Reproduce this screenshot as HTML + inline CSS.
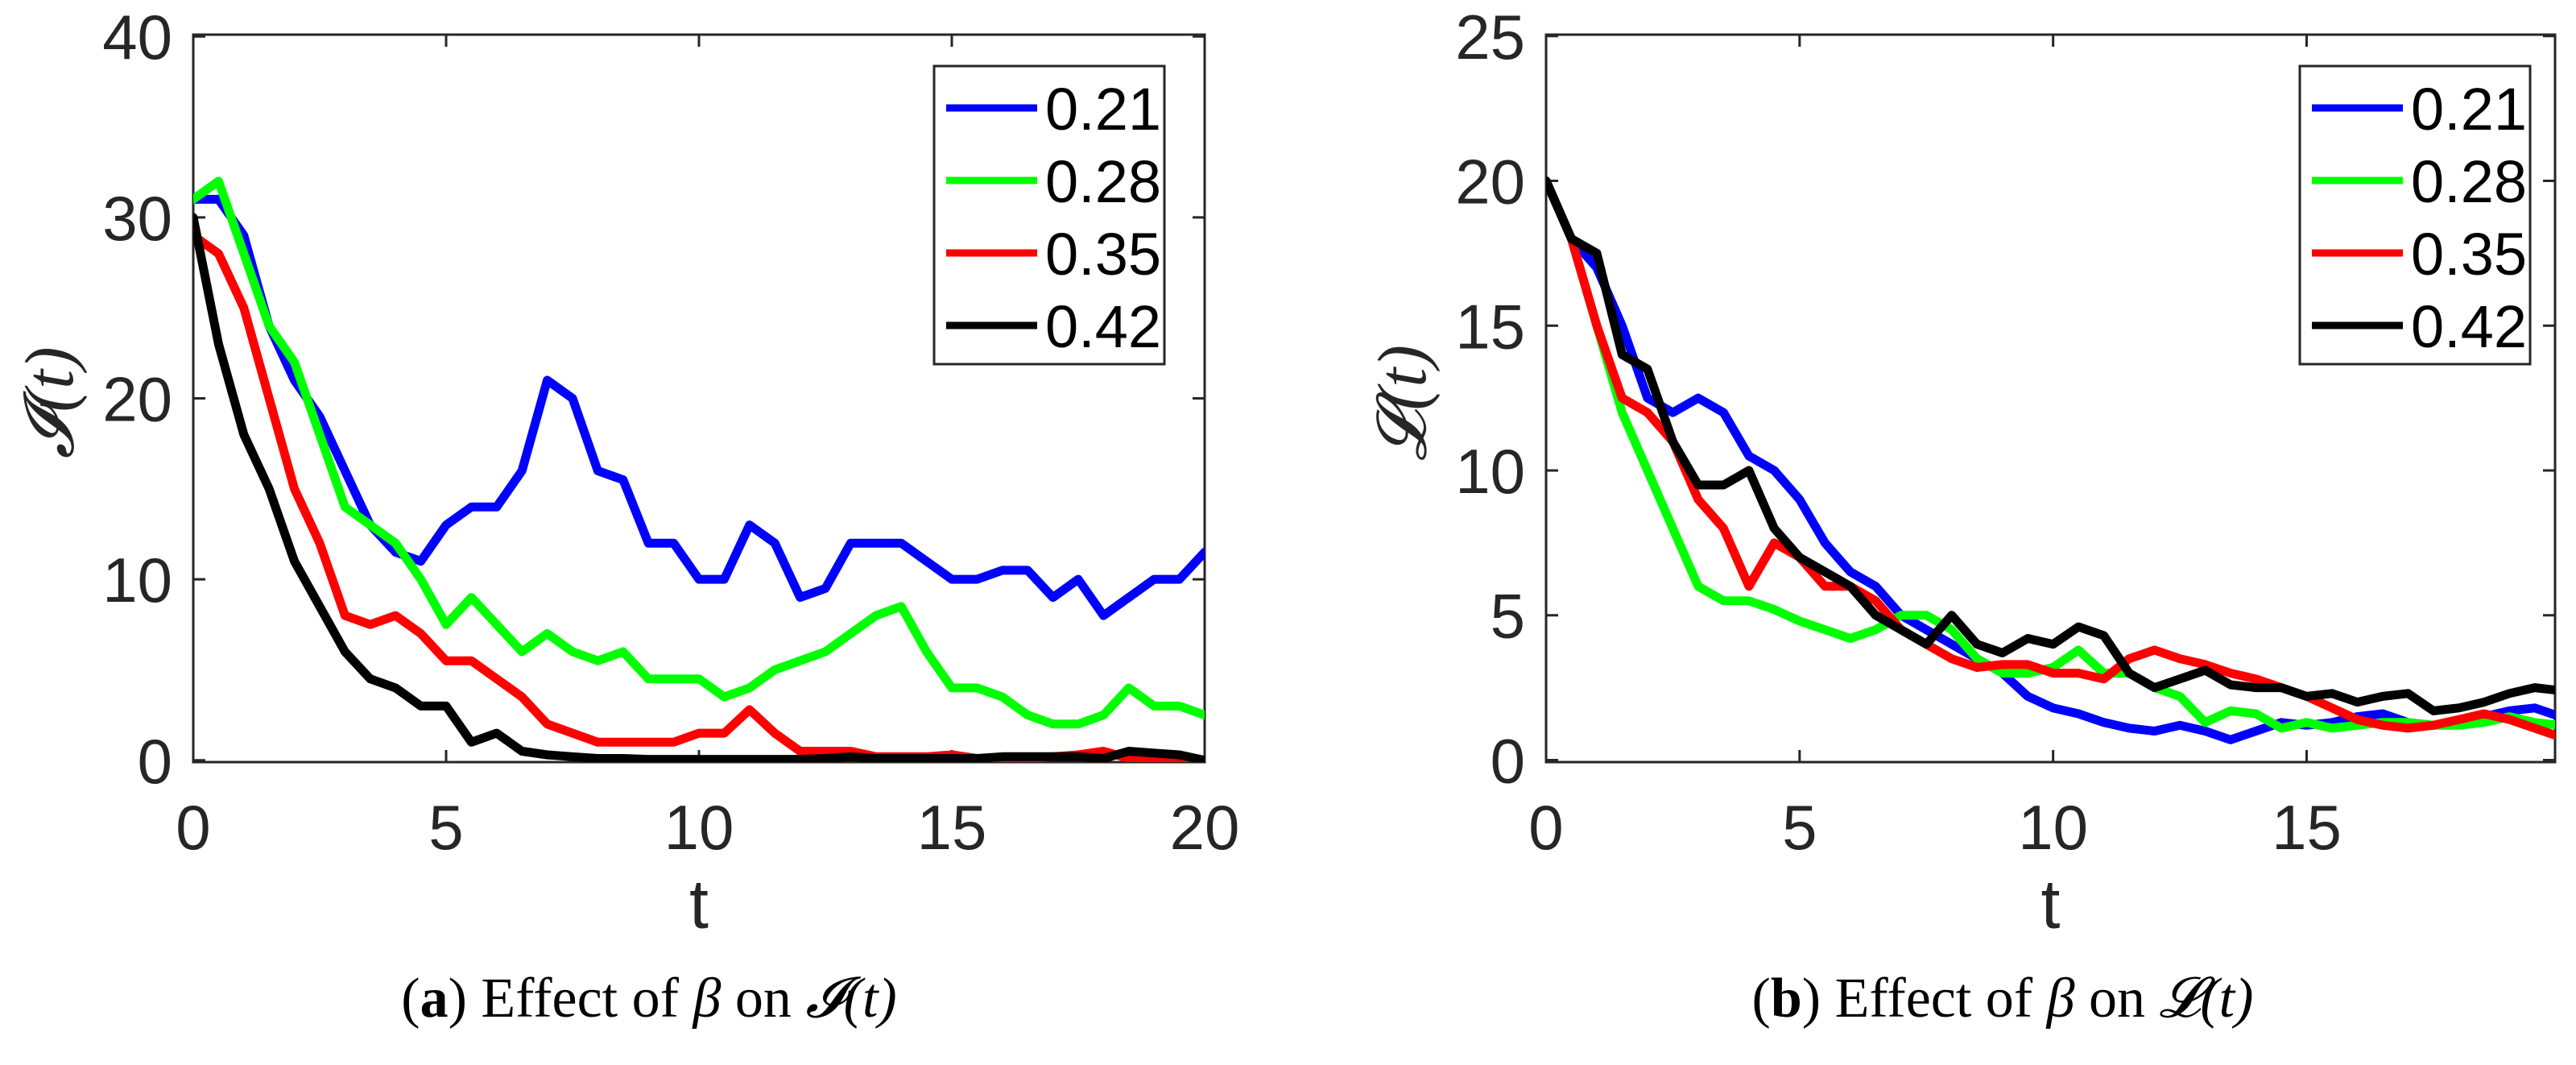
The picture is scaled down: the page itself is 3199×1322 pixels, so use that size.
<!DOCTYPE html>
<html><head><meta charset="utf-8"><style>
html,body{margin:0;padding:0;background:#fff;}
svg{display:block;}
</style></head>
<body>
<svg id="fig" width="3199" height="1322" viewBox="0 0 3199 1322" xmlns="http://www.w3.org/2000/svg">
<defs>
<clipPath id="clipA"><rect x="240" y="43" width="1256" height="903"/></clipPath>
<clipPath id="clipB"><rect x="1920" y="43" width="1253" height="903"/></clipPath>
</defs>
<g id="panelA"></g>
<g id="panelB"></g>
<text x="806" y="1262" text-anchor="middle" font-family="Liberation Serif, serif" font-size="70" fill="#000">(<tspan font-weight="bold">a</tspan>) Effect of <tspan font-style="italic">β</tspan> on <tspan font-style="italic">𝓘(t)</tspan></text>
<text x="2487" y="1262" text-anchor="middle" font-family="Liberation Serif, serif" font-size="70" fill="#000">(<tspan font-weight="bold">b</tspan>) Effect of <tspan font-style="italic">β</tspan> on <tspan font-style="italic">𝓛(t)</tspan></text>
</svg>
<script>
const tVals=[0,0.5,1,1.5,2,2.5,3,3.5,4,4.5,5,5.5,6,6.5,7,7.5,8,8.5,9,9.5,10,10.5,11,11.5,12,12.5,13,13.5,14,14.5,15,15.5,16,16.5,17,17.5,18,18.5,19,19.5,20];
const seriesNames=["0.21","0.28","0.35","0.42"];
const seriesColors=["#0000ff","#00ff00","#ff0000","#000000"];
const I_021=[31,31,29,24,21,19,16,13,11.5,11,13,14,14,16,21,20,16,15.5,12,12,10,10,13,12,9,9.5,12,12,12,11,10,10,10.5,10.5,9,10,8,9,10,10,11.5];
const I_028=[31,32,28,24,22,18,14,13,12,10,7.5,9,7.5,6,7,6,5.5,6,4.5,4.5,4.5,3.5,4,5,5.5,6,7,8,8.5,6,4,4,3.5,2.5,2,2,2.5,4,3,3,2.5];
const I_035=[29,28,25,20,15,12,8,7.5,8,7,5.5,5.5,4.5,3.5,2,1.5,1,1,1,1,1.5,1.5,2.8,1.5,0.5,0.5,0.5,0.2,0.2,0.2,0.3,0.1,0,0.1,0.2,0.3,0.5,0.1,0,0,0];
const I_042=[30,23,18,15,11,8.5,6,4.5,4,3,3,1,1.5,0.5,0.3,0.2,0.1,0.1,0.05,0.05,0.05,0.05,0.05,0.05,0.05,0.1,0.2,0.1,0.1,0.1,0.1,0.1,0.2,0.2,0.2,0.2,0.1,0.5,0.4,0.3,0];
const L_021=[20,18,17,15,12.5,12,12.5,12,10.5,10,9,7.5,6.5,6,5,4.5,4,3.5,3,2.2,1.8,1.6,1.3,1.1,1,1.2,1,0.7,1,1.3,1.2,1.3,1.5,1.6,1.3,1.2,1.3,1.5,1.7,1.8,1.5];
const L_028=[20,18,15,12,10,8,6,5.5,5.5,5.2,4.8,4.5,4.2,4.5,5,5,4.5,3.5,3,3,3.2,3.8,3,3,2.5,2.2,1.3,1.7,1.6,1.1,1.3,1.1,1.2,1.3,1.3,1.2,1.2,1.3,1.5,1.3,1.2];
const L_035=[20,18,15,12.5,12,11,9,8,6,7.5,7,6,6,5.5,4.5,4,3.5,3.2,3.3,3.3,3,3,2.8,3.5,3.8,3.5,3.3,3,2.8,2.5,2.2,1.8,1.4,1.2,1.1,1.2,1.4,1.6,1.4,1.1,0.8];
const L_042=[20,18,17.5,14,13.5,11,9.5,9.5,10,8,7,6.5,6,5,4.5,4,5,4,3.7,4.2,4,4.6,4.3,3,2.5,2.8,3.1,2.6,2.5,2.5,2.2,2.3,2,2.2,2.3,1.7,1.8,2,2.3,2.5,2.4];
const xTicksA=[0,5,10,15,20];
const yTicksA=[0,10,20,30,40];
const xTicksB=[0,5,10,15];
const yTicksB=[0,5,10,15,20,25];
const NS="http://www.w3.org/2000/svg";
function mk(tag,attrs,parent){const e=document.createElementNS(NS,tag);for(const k in attrs)e.setAttribute(k,attrs[k]);parent.appendChild(e);return e;}

function panel(g,cfg){
  const {x0,x1,y0,y1,xmin,xmax,ymin,ymax,xt,yt,data,clip,ylab,lx}=cfg;
  const sx=v=>x0+(v-xmin)/(xmax-xmin)*(x1-x0);
  const sy=v=>y1-(v-ymin)/(ymax-ymin)*(y1-y0);
  const frame=mk('rect',{x:x0,y:y0,width:x1-x0,height:y1-y0,fill:'none',stroke:'#262626','stroke-width':3},g);
  
  
  xt.forEach(v=>{
    const X=sx(v);
    const tk=mk('path',{d:`M${X},${y1}v-15M${X},${y0}v15`,stroke:'#262626','stroke-width':3},g);
    
    
    const tl=mk('text',{x:X,y:1054,'text-anchor':'middle','font-family':'Liberation Sans, sans-serif','font-size':78,fill:'#262626'},g);
    tl.textContent=v;
    
    
  });
  yt.forEach(v=>{
    const Y=sy(v);
    const tk=mk('path',{d:`M${x0},${Y}h15M${x1},${Y}h-15`,stroke:'#262626','stroke-width':3},g);
    
    
    const tl=mk('text',{x:x0-26,y:Y+28,'text-anchor':'end','font-family':'Liberation Sans, sans-serif','font-size':78,fill:'#262626'},g);
    tl.textContent=v;
    
    
  });
  const xl=mk('text',{x:(x0+x1)/2,y:1152,'text-anchor':'middle','font-family':'Liberation Sans, sans-serif','font-size':86,fill:'#262626'},g);
  xl.textContent='t';
  
  
  const yl=mk('text',{x:0,y:0,transform:`translate(${x0-150},500) rotate(-90)`,'text-anchor':'middle','font-family':'Liberation Serif, DejaVu Serif, serif','font-style':'italic','font-size':86,fill:'#262626'},g);
  yl.textContent=ylab;
  
  
  const lines=mk('g',{'clip-path':`url(#${clip})`},g);
  
  
  data.forEach((arr,i)=>{
    const d=arr.map((v,j)=>(j?'L':'M')+sx(tVals[j]).toFixed(1)+','+sy(v).toFixed(1)).join('');
    const p=mk('path',{d:d,fill:'none',stroke:seriesColors[i],'stroke-width':11,'stroke-linejoin':'round','stroke-linecap':'round'},lines);
    
    
  });
  const lg=mk('g',{},g);
  
  
  mk('rect',{x:lx,y:82,width:286,height:370,fill:'#fff',stroke:'#262626','stroke-width':3},lg);
  seriesNames.forEach((n,i)=>{
    const Y=134+i*90;
    const e=mk('g',{},lg);
    
    
    mk('line',{x1:lx+15,x2:lx+128,y1:Y,y2:Y,stroke:seriesColors[i],'stroke-width':9},e);
    const tx=mk('text',{x:lx+138,y:Y+27,'font-family':'Liberation Sans, sans-serif','font-size':74,fill:'#000'},e);
    tx.textContent=n;
  });
}
panel(document.getElementById('panelA'),{x0:240,x1:1496,y0:43,y1:946,xmin:0,xmax:20,ymin:-0.1,ymax:40.1,xt:xTicksA,yt:yTicksA,data:[I_021,I_028,I_035,I_042],clip:'clipA',ylab:'𝓘(t)',lx:1160});
panel(document.getElementById('panelB'),{x0:1920,x1:3173,y0:43,y1:946,xmin:0,xmax:19.9,ymin:-0.07,ymax:25.05,xt:xTicksB,yt:yTicksB,data:[L_021,L_028,L_035,L_042],clip:'clipB',ylab:'𝓛(t)',lx:2856});
</script>
</body></html>
